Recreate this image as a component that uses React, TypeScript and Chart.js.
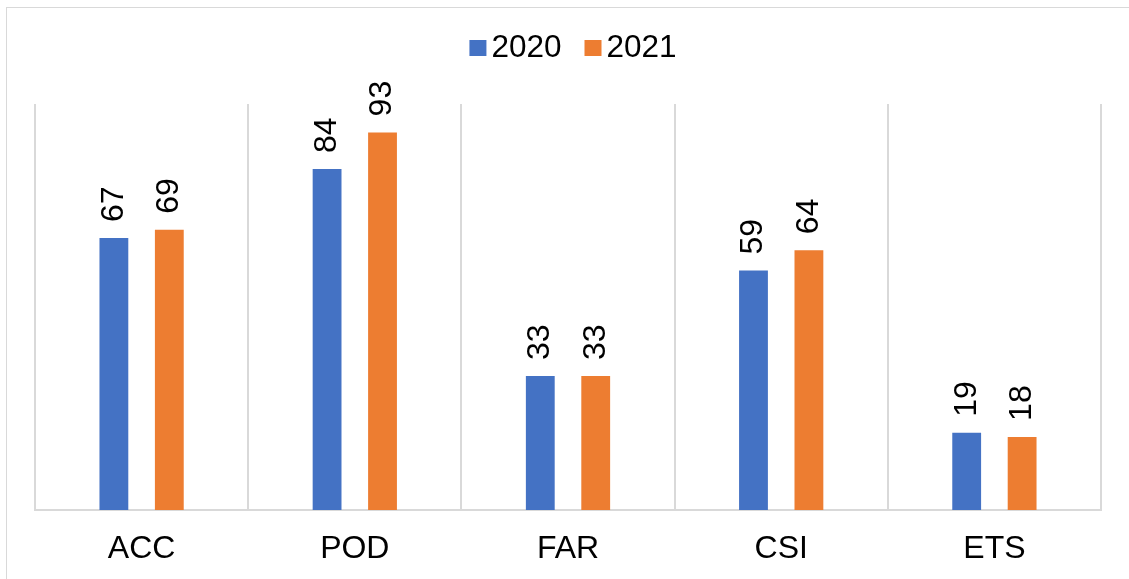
import React, { useEffect, useRef } from "react";
import { Chart, registerables } from "chart.js";

Chart.register(...registerables);

const categories = ["ACC", "POD", "FAR", "CSI", "ETS"];
const series2020 = [67, 84, 33, 59, 19];
const series2021 = [69, 93, 33, 64, 18];
const seriesLabels = ["2020", "2021"];
const seriesColors = ["#4472C4", "#ED7D31"];
const yMin = 0;
const yMax = 100;

const FONT = "'Liberation Sans', Arial, sans-serif";

const valueLabels = {
  id: "valueLabels",
  afterDatasetsDraw(chart: any) {
    const ctx = chart.ctx;
    ctx.save();
    ctx.font = `32px ${FONT}`;
    ctx.fillStyle = "#000";
    ctx.textAlign = "left";
    ctx.textBaseline = "middle";
    chart.data.datasets.forEach((ds: any, i: number) => {
      const meta = chart.getDatasetMeta(i);
      meta.data.forEach((bar: any, j: number) => {
        ctx.save();
        ctx.translate(bar.x, bar.y - 16);
        ctx.rotate(-Math.PI / 2);
        ctx.fillText(String(ds.data[j]), 0, 0);
        ctx.restore();
      });
    });
    ctx.restore();
  },
};

const customLegend = {
  id: "customLegend",
  afterDraw(chart: any) {
    const ctx = chart.ctx;
    ctx.save();
    ctx.font = `31.5px ${FONT}`;
    ctx.textBaseline = "middle";
    ctx.textAlign = "left";
    const box = 17;
    const gap = 5;
    const itemGap = 23;
    const items = chart.data.datasets.map((ds: any) => ({
      text: ds.label,
      color: ds.backgroundColor,
      w: ctx.measureText(ds.label).width,
    }));
    const total =
      items.reduce((s: number, it: any) => s + box + gap + it.w, 0) +
      itemGap * (items.length - 1);
    let x = 573 - total / 2;
    for (const it of items) {
      ctx.fillStyle = it.color;
      ctx.fillRect(x, 40, box, box - 1);
      x += box + gap;
      ctx.fillStyle = "#000";
      ctx.fillText(it.text, x, 48);
      x += it.w + itemGap;
    }
    ctx.restore();
  },
};

export default function App() {
  const ref = useRef<HTMLCanvasElement | null>(null);

  useEffect(() => {
    if (!ref.current) return;
    const chart = new Chart(ref.current, {
      type: "bar",
      data: {
        labels: categories,
        datasets: [
          {
            label: seriesLabels[0],
            data: series2020,
            backgroundColor: seriesColors[0],
            categoryPercentage: 0.52,
            barPercentage: 0.52,
          },
          {
            label: seriesLabels[1],
            data: series2021,
            backgroundColor: seriesColors[1],
            categoryPercentage: 0.52,
            barPercentage: 0.52,
          },
        ],
      },
      options: {
        responsive: false,
        animation: false,
        layout: { padding: { left: 35, right: 28, top: 104, bottom: 0 } },
        plugins: {
          legend: { display: false },
          tooltip: { enabled: false },
        },
        scales: {
          x: {
            grid: {
              offset: true,
              color: "#d9d9d9",
              lineWidth: 2,
              drawTicks: false,
            },
            border: { display: true, color: "#d9d9d9", width: 2 },
            ticks: {
              color: "#000",
              padding: 20,
              font: { family: FONT, size: 32 },
            },
            afterFit: (scale: any) => {
              scale.height = 69;
            },
          },
          y: {
            display: false,
            min: yMin,
            max: yMax,
          },
        },
      },
      plugins: [valueLabels, customLegend],
    });
    return () => chart.destroy();
  }, []);

  return (
    <div>
      <div
        style={{
          position: "absolute",
          left: 6,
          top: 7,
          width: 1123,
          height: 572,
          boxSizing: "border-box",
          borderLeft: "1px solid #d9d9d9",
          borderTop: "1px solid #d9d9d9",
        }}
      />
      <canvas
        ref={ref}
        width={1129}
        height={579}
        style={{ position: "absolute", left: 0, top: 0, width: 1129, height: 579 }}
      />
    </div>
  );
}
